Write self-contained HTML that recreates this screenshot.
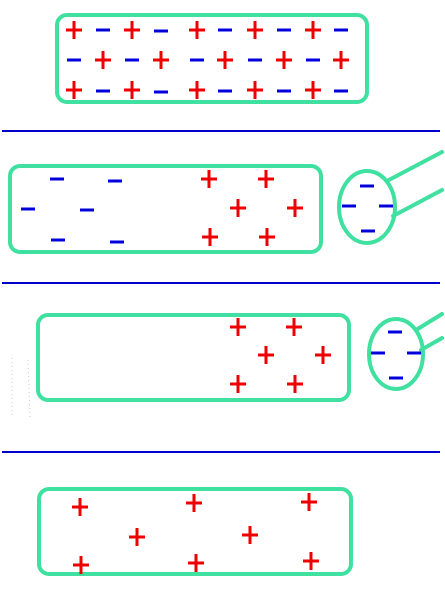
<!DOCTYPE html>
<html><head><meta charset="utf-8"><style>html,body{margin:0;padding:0;background:#fff;width:445px;height:615px;overflow:hidden}</style></head>
<body>
<svg id="s" width="445" height="615" xmlns="http://www.w3.org/2000/svg">
<g fill="none" stroke="#3fe0a0" stroke-width="4" stroke-linecap="round">
<rect x="57" y="15" width="310" height="87" rx="10"/>
<rect x="10" y="166" width="311" height="86" rx="10"/>
<rect x="38" y="315" width="311" height="85" rx="10"/>
<rect x="39" y="489" width="312" height="85" rx="10"/>
<ellipse cx="367" cy="207" rx="28" ry="36"/>
<ellipse cx="396" cy="354" rx="27" ry="35"/>
<path d="M387 181 L442 152 M393 216 L442 190"/>
<path d="M416 330 L442 314 M421 350 L442 338"/>
</g>
<g stroke="#0000cc" stroke-width="2">
<line x1="2" y1="131" x2="440" y2="131"/>
<line x1="2" y1="283" x2="440" y2="283"/>
<line x1="2" y1="452" x2="440" y2="452"/>
</g>
<path d="M12 358 L12 415 M28 360 L30 418" stroke="#ccc" stroke-width="1" stroke-dasharray="1 3"/>
<g id="marks"></g>
</svg>
<script>
const pluses=[[74,30],[132,30],[197,30],[255,30],[313,30],[103,60],[161,60],[225,60],[284,60],[341,60],[74,90],[132,90],[197,90],[255,90],[313,90],
[209,179],[266,179],[238,208],[295,208],[210,237],[267,237],
[238,327],[294,327],[266,355],[323,355],[238,384],[295,384],
[80,507],[194,503],[309,502],[137,537],[250,535],[81,565],[196,563],[311,561]];
const minuses=[[103,30],[161,31],[225,30],[284,30],[341,30],[74,60],[132,60],[197,60],[255,60],[313,60],[103,91],[161,92],[225,91],[284,91],[341,91],
[57,179],[115,181],[28,209],[87,210],[58,240],[117,242],
[367,186],[349,206],[386,206],[368,231],
[395,332],[378,353],[414,353],[396,378]];
const g=document.getElementById('marks');const NS='http://www.w3.org/2000/svg';
pluses.forEach(([x,y])=>{const p=document.createElementNS(NS,'path');
p.setAttribute('d',`M${x-8} ${y} H${x+8} M${x} ${y-9} V${y+9}`);
p.setAttribute('stroke','#ee0000');p.setAttribute('stroke-width','3');


g.appendChild(p);});
minuses.forEach(([x,y])=>{const p=document.createElementNS(NS,'path');
p.setAttribute('d',`M${x-7} ${y} H${x+7}`);
p.setAttribute('stroke','#0000dd');p.setAttribute('stroke-width','3');


g.appendChild(p);});
</script>
</body></html>
